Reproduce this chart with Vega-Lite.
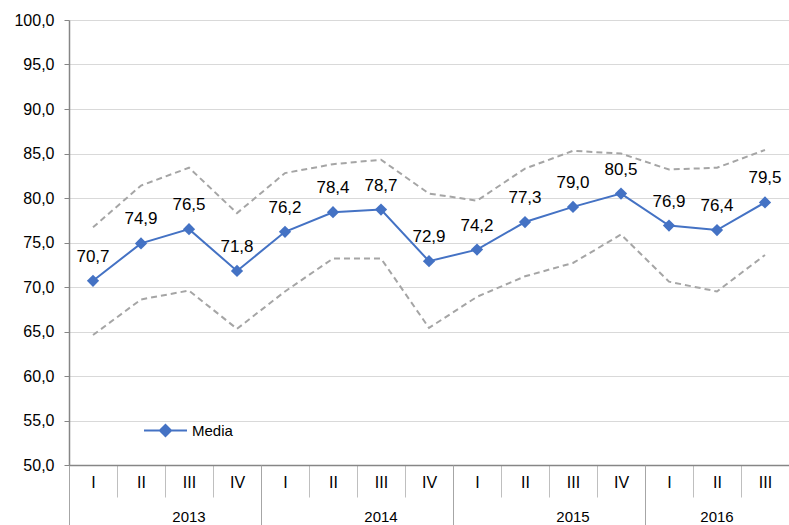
{
  "$schema": "https://vega.github.io/schema/vega-lite/v6.json",
  "width": 720,
  "height": 445,
  "autosize": {"type": "none"},
  "padding": {"left": 69, "top": 20, "right": 0, "bottom": 60},
  "background": "white",
  "config": {
    "locale": {"number": {"decimal": ",", "thousands": ".", "grouping": [3], "currency": ["", " €"]}},
    "font": "Liberation Sans",
    "view": {"stroke": null},
    "axis": {"labelFont": "Liberation Sans", "labelColor": "#000000"}
  },
  "data": {
    "values": [
      {"period": "2013-I", "media": 70.7, "sup": 76.7, "inf": 64.6},
      {"period": "2013-II", "media": 74.9, "sup": 81.4, "inf": 68.6},
      {"period": "2013-III", "media": 76.5, "sup": 83.4, "inf": 69.6},
      {"period": "2013-IV", "media": 71.8, "sup": 78.3, "inf": 65.3},
      {"period": "2014-I", "media": 76.2, "sup": 82.8, "inf": 69.5},
      {"period": "2014-II", "media": 78.4, "sup": 83.8, "inf": 73.2},
      {"period": "2014-III", "media": 78.7, "sup": 84.3, "inf": 73.2},
      {"period": "2014-IV", "media": 72.9, "sup": 80.5, "inf": 65.4},
      {"period": "2015-I", "media": 74.2, "sup": 79.7, "inf": 68.9},
      {"period": "2015-II", "media": 77.3, "sup": 83.3, "inf": 71.2},
      {"period": "2015-III", "media": 79.0, "sup": 85.3, "inf": 72.7},
      {"period": "2015-IV", "media": 80.5, "sup": 85.0, "inf": 75.9},
      {"period": "2016-I", "media": 76.9, "sup": 83.2, "inf": 70.6},
      {"period": "2016-II", "media": 76.4, "sup": 83.4, "inf": 69.5},
      {"period": "2016-III", "media": 79.5, "sup": 85.4, "inf": 73.6}
    ]
  },
  "layer": [
    {
      "encoding": {
        "x": {
          "field": "period", "type": "ordinal", "sort": null,
          "scale": {"type": "band", "paddingInner": 0, "paddingOuter": 0},
          "axis": {
            "title": null, "orient": "bottom", "labelAngle": 0, "tickBand": "extent", "tickSize": 32,
            "tickColor": "#BFBFBF", "tickWidth": 1, "domainColor": "#868686", "domainWidth": 1.5,
            "labelExpr": "split(datum.value, '-')[1]", "labelFontSize": 16,
            "labelPadding": -23, "labelBaseline": "top", "grid": false
          }
        }
      },
      "layer": [
        {
          "mark": {"type": "line", "color": "#A5A5A5", "strokeWidth": 2, "strokeDash": [6, 4]},
          "encoding": {
            "y": {
              "field": "sup", "type": "quantitative",
              "scale": {"domain": [50, 100], "nice": false, "zero": false},
              "axis": {
                "title": null, "values": [50, 55, 60, 65, 70, 75, 80, 85, 90, 95, 100],
                "format": ".1f", "labelFontSize": 16, "labelPadding": 10,
                "tickSize": 5, "tickColor": "#868686", "domainColor": "#868686", "domainWidth": 1.5,
                "gridColor": "#D9D9D9", "gridWidth": 1
              }
            }
          }
        },
        {
          "mark": {"type": "line", "color": "#A5A5A5", "strokeWidth": 2, "strokeDash": [6, 4]},
          "encoding": {"y": {"field": "inf", "type": "quantitative"}}
        },
        {
          "mark": {"type": "line", "strokeWidth": 2, "point": {"shape": "diamond", "size": 150, "filled": true, "opacity": 1}},
          "encoding": {
            "y": {"field": "media", "type": "quantitative"},
            "color": {
              "datum": "Media", "type": "nominal",
              "scale": {"range": ["#4472C4"]},
              "legend": {
                "title": null, "orient": "none", "legendX": 74, "legendY": 388,
                "symbolType": "M-1,0L1,0M0,-0.26L0.26,0L0,0.26L-0.26,0Z",
                "symbolSize": 1849, "symbolStrokeWidth": 2,
                "symbolFillColor": "#4472C4", "symbolStrokeColor": "#4472C4",
                "labelFontSize": 15, "labelColor": "#000000", "labelOffset": 4
              }
            }
          }
        },
        {
          "mark": {"type": "text", "fontSize": 17, "baseline": "alphabetic", "dy": -19, "color": "#000000"},
          "encoding": {
            "y": {"field": "media", "type": "quantitative"},
            "text": {"field": "media", "type": "quantitative", "format": ".1f"}
          }
        }
      ]
    },
    {
      "mark": {"type": "point", "opacity": 0},
      "encoding": {
        "x": {
          "field": "period", "type": "ordinal", "sort": null,
          "scale": {"type": "band", "paddingInner": 0, "paddingOuter": 0},
          "axis": {
            "title": null, "orient": "bottom", "values": ["2013-I", "2014-I", "2015-I", "2016-I"], "bandPosition": 0,
            "labels": false, "domain": false, "tickSize": 60, "tickColor": "#A6A6A6", "tickWidth": 1, "grid": false
          }
        },
        "y": {"field": "media", "type": "quantitative"}
      }
    },
    {
      "mark": {"type": "point", "opacity": 0},
      "encoding": {
        "x": {
          "field": "period", "type": "ordinal", "sort": null,
          "scale": {"type": "band", "paddingInner": 0, "paddingOuter": 0},
          "axis": {
            "title": null, "orient": "bottom", "values": ["2013-III", "2014-III", "2015-III"], "bandPosition": 0,
            "labelExpr": "split(datum.value, '-')[0]", "labelAngle": 0, "labelFontSize": 15,
            "labelBaseline": "top", "labelPadding": 44,
            "ticks": false, "tickSize": 0, "domain": false, "grid": false
          }
        },
        "y": {"field": "media", "type": "quantitative"}
      }
    },
    {
      "mark": {"type": "point", "opacity": 0},
      "encoding": {
        "x": {
          "field": "period", "type": "ordinal", "sort": null,
          "scale": {"type": "band", "paddingInner": 0, "paddingOuter": 0},
          "axis": {
            "title": null, "orient": "bottom", "values": ["2016-II"], "bandPosition": 0.5,
            "labelExpr": "split(datum.value, '-')[0]", "labelAngle": 0, "labelFontSize": 15,
            "labelBaseline": "top", "labelPadding": 44,
            "ticks": false, "tickSize": 0, "domain": false, "grid": false
          }
        },
        "y": {"field": "media", "type": "quantitative"}
      }
    }
  ],
  "resolve": {"scale": {"x": "independent"}}
}
